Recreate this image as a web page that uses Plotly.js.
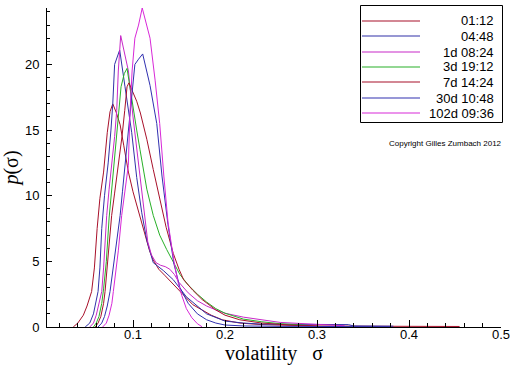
<!DOCTYPE html>
<html>
<head>
<meta charset="utf-8">
<script src="https://cdn.plot.ly/plotly-3.0.1.min.js"></script>
<style>html,body{margin:0;padding:0;background:#fff;}#chart{width:512px;height:366px;}</style>
</head>
<body>
<div id="chart"></div>
<script>
// Series labels (legend order)
const seriesNames = ["01:12", "04:48", "1d 08:24", "3d 19:12", "7d 14:24", "30d 10:48", "102d 09:36"];
const seriesColors = ["#a8102a", "#3030a8", "#c828c8", "#28b028", "#a8102a", "#3030b0", "#d828d8"];

// 01:12
const x1 = [0.035,0.040,0.046,0.050,0.055,0.058,0.061,0.064,0.068,0.072,0.075,0.078,0.082,0.086,0.090,0.095,0.100,0.104,0.108,0.113,0.118,0.122,0.128,0.135,0.142,0.150,0.158,0.165,0.175,0.185,0.197,0.216,0.240,0.270,0.300,0.350,0.400,0.455];
const y1 = [0,0.3,0.9,1.6,2.7,4.5,7.5,9.8,11.8,14.8,16.4,17.0,16.3,15.4,13.8,11.8,10.3,9.3,8.3,7.0,5.8,5.1,4.4,3.9,3.4,2.8,2.2,1.7,1.3,0.9,0.55,0.3,0.18,0.12,0.08,0.06,0.05,0.04];
// 04:48
const x2 = [0.048,0.053,0.057,0.060,0.062,0.064,0.066,0.069,0.073,0.076,0.078,0.080,0.083,0.0855,0.0913,0.0986,0.104,0.1095,0.115,0.122,0.133,0.1438,0.158,0.180,0.200,0.220,0.240,0.280,0.334,0.340,0.383];
const y2 = [0,0.3,1.0,1.9,2.7,4.5,7.5,10.0,12.5,15.0,17.0,20.0,20.6,21.1,18.3,14.8,11.4,8.7,6.6,4.9,4.3,3.6,2.3,1.0,0.45,0.3,0.22,0.2,0.18,0.08,0.06];
// 1d 08:24
const x3 = [0.053,0.057,0.060,0.063,0.066,0.068,0.0714,0.074,0.0768,0.080,0.0823,0.084,0.0866,0.090,0.095,0.100,0.104,0.108,0.112,0.116,0.120,0.125,0.130,0.135,0.140,0.145,0.150,0.160,0.170,0.180,0.190,0.200,0.220,0.240,0.260,0.300,0.330];
const y3 = [0,0.3,0.9,1.8,2.7,4.5,8.5,10.5,12.3,14.5,16.5,19.5,22.2,21.0,19.5,16.0,13.5,11.0,8.5,6.5,5.5,4.9,4.7,4.6,4.4,4.0,3.4,2.6,2.0,1.6,1.3,1.05,0.75,0.55,0.35,0.2,0.1];
// 3d 19:12
const x4 = [0.057,0.060,0.063,0.066,0.068,0.071,0.074,0.077,0.080,0.084,0.087,0.0905,0.0935,0.097,0.1004,0.104,0.1076,0.111,0.115,0.122,0.129,0.1366,0.1438,0.151,0.160,0.170,0.180,0.190,0.200,0.210,0.220,0.240,0.260,0.290];
const y4 = [0,0.3,0.8,1.8,2.9,5.0,8.3,10.5,12.5,16.0,18.3,19.3,19.7,18.0,16.5,15.0,13.5,12.0,10.5,8.5,7.0,5.9,4.9,4.0,3.2,2.5,1.9,1.4,1.05,0.8,0.6,0.4,0.25,0.12];
// 7d 14:24
const x5 = [0.059,0.062,0.065,0.068,0.0696,0.072,0.0745,0.0768,0.080,0.084,0.088,0.091,0.0935,0.0955,0.100,0.104,0.108,0.115,0.122,0.129,0.136,0.1438,0.150,0.155,0.165,0.175,0.190,0.200,0.216,0.240,0.270,0.300];
const y5 = [0,0.3,0.8,1.8,2.7,4.5,6.8,8.5,10.2,12.3,14.5,16.5,18.3,18.6,17.8,17.2,16.3,14.3,12.0,9.8,7.6,5.6,4.4,3.6,2.8,2.1,1.3,0.9,0.55,0.3,0.15,0.08];
// 30d 10:48
const x6 = [0.062,0.066,0.069,0.072,0.075,0.078,0.081,0.0835,0.086,0.0885,0.0913,0.094,0.0967,0.099,0.102,0.106,0.1105,0.1185,0.1258,0.1315,0.138,0.1445,0.151,0.160,0.170,0.180,0.190,0.200,0.220,0.260,0.300,0.380];
const y6 = [0,0.3,0.8,1.6,2.7,4.2,5.8,7.0,8.5,10.3,12.3,14.5,16.5,18.3,20.0,20.4,20.8,18.4,15.5,11.5,7.8,4.8,3.0,1.8,1.0,0.55,0.3,0.15,0.08,0.05,0.04,0.02];
// 102d 09:36
const x7 = [0.067,0.071,0.074,0.077,0.0786,0.081,0.084,0.0877,0.091,0.0949,0.0965,0.099,0.102,0.106,0.110,0.1185,0.124,0.129,0.1335,0.138,0.1445,0.149,0.153,0.158,0.164,0.170,0.175];
const y7 = [0,0.3,0.9,1.8,2.7,4.0,5.8,8.5,10.3,12.3,16.0,19.5,22.0,23.0,24.3,22.0,18.8,15.5,11.5,8.0,5.0,3.4,2.4,1.4,0.7,0.25,0.02];

const xs = [x1, x2, x3, x4, x5, x6, x7];
const ys = [y1, y2, y3, y4, y5, y6, y7];

const traces = xs.map((x, i) => ({
  x: x, y: ys[i], type: 'scatter', mode: 'lines', name: seriesNames[i],
  line: {color: seriesColors[i], width: 1}, showlegend: false, hoverinfo: 'skip'
}));

// pixel -> paper helpers (plot area: x 47..501, y 8..327)
const L = 47, R = 11, T = 8, B = 39, W = 512, H = 366;
const pw = W - L - R, ph = H - T - B;
const px = v => (v - L) / pw;
const py = v => (H - B - v) / ph;

const shapes = [{
  type: 'rect', xref: 'paper', yref: 'paper',
  x0: px(360.5), x1: px(502.5), y0: py(122.5), y1: py(5.5),
  line: {color: '#000', width: 1}, fillcolor: '#fff', layer: 'above'
}];
const annotations = [];
seriesNames.forEach((n, i) => {
  const rowY = Math.round(21 + i * 15.35);
  shapes.push({type: 'line', xref: 'paper', yref: 'paper',
    x0: px(362), x1: px(420), y0: py(rowY), y1: py(rowY),
    line: {color: seriesColors[i], width: 1.2}, layer: 'above'});
  annotations.push({xref: 'paper', yref: 'paper', x: px(496), y: py(rowY),
    xanchor: 'right', yanchor: 'middle', showarrow: false, text: n,
    font: {family: 'Liberation Sans, Arial, sans-serif', size: 13, color: '#000'}});
});
annotations.push({xref: 'paper', yref: 'paper', x: px(445), y: py(143),
  xanchor: 'center', yanchor: 'middle', showarrow: false,
  text: 'Copyright Gilles Zumbach 2012',
  font: {family: 'Liberation Sans, Arial, sans-serif', size: 8, color: '#000'}});

const tickFont = {family: 'Liberation Sans, Arial, sans-serif', size: 13, color: '#000'};
const layout = {
  width: W, height: H,
  margin: {l: L, r: R, t: T, b: B, pad: 0},
  paper_bgcolor: '#fff', plot_bgcolor: '#fff',
  showlegend: false,
  xaxis: {
    range: [0.0065, 0.5], tick0: 0, dtick: 0.1, tickformat: '.1f',
    ticks: 'inside', ticklen: 7, tickcolor: '#000', tickwidth: 1,
    showline: true, linecolor: '#000', linewidth: 1, mirror: false,
    showgrid: false, zeroline: false, tickfont: tickFont,
    ticklabelstandoff: -5,
    minor: {dtick: 0.02, tick0: 0, ticks: 'inside', ticklen: 4, tickcolor: '#000', showgrid: false},
    title: {text: 'volatility\u00a0\u00a0\u00a0σ', standoff: 0,
      font: {family: 'Liberation Serif, Times New Roman, serif', size: 20, color: '#000'}},
    automargin: false
  },
  yaxis: {
    range: [0, 24.3], tick0: 0, dtick: 5,
    ticks: 'inside', ticklen: 5, tickcolor: '#000', tickwidth: 1,
    showline: true, linecolor: '#000', linewidth: 1, mirror: false,
    showgrid: false, zeroline: false, tickfont: tickFont,
    ticklabelstandoff: 4,
    minor: {dtick: 1, tick0: 0, ticks: 'inside', ticklen: 3, tickcolor: '#000', showgrid: false},
    title: {text: '<i>p</i>(σ)', standoff: 2,
      font: {family: 'Liberation Serif, Times New Roman, serif', size: 20, color: '#000'}},
    automargin: false
  },
  shapes: shapes,
  annotations: annotations
};

Plotly.newPlot('chart', traces, layout, {staticPlot: true, displayModeBar: false});
</script>
</body>
</html>
